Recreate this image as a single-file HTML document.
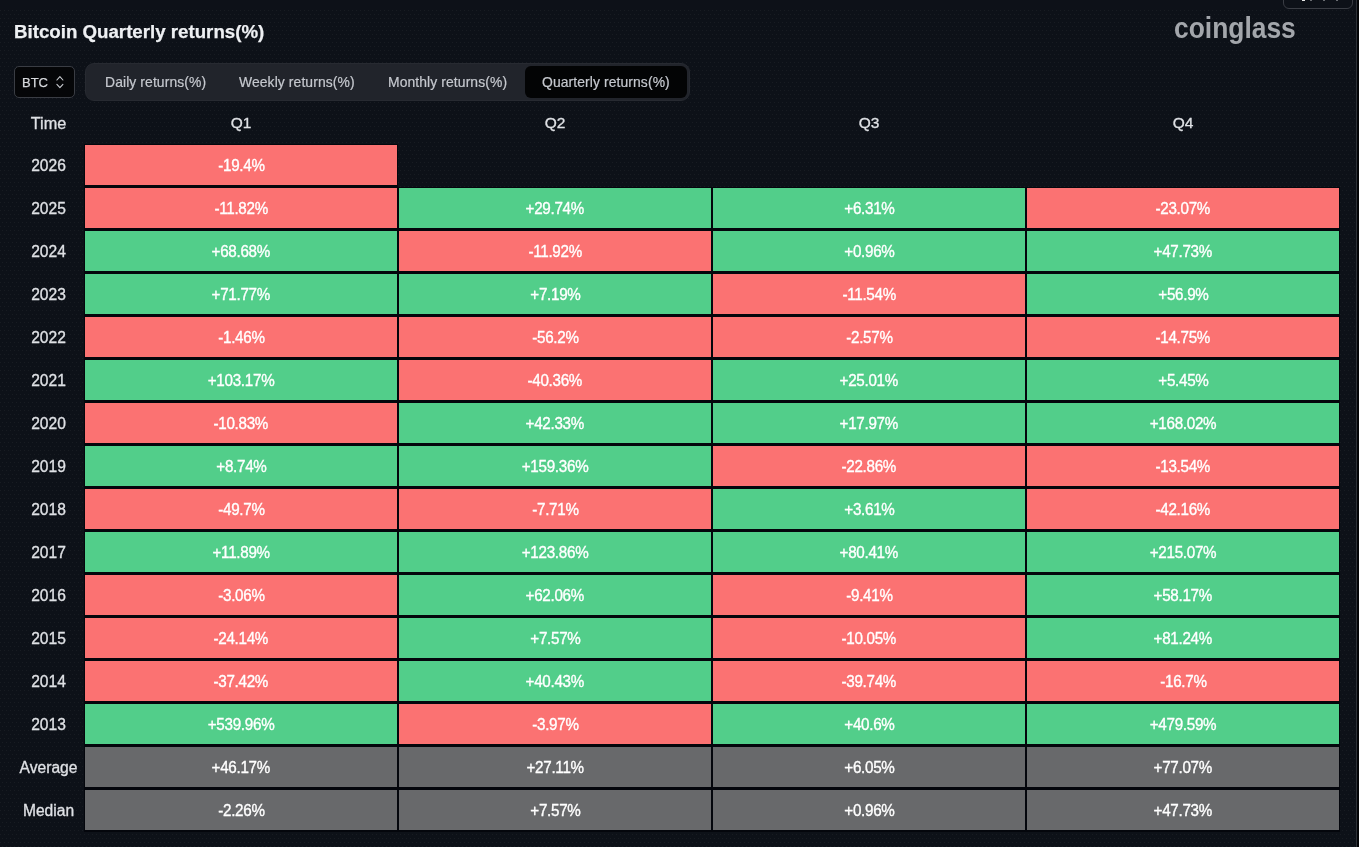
<!DOCTYPE html>
<html><head><meta charset="utf-8">
<style>
html,body{margin:0;padding:0;}
body{will-change:transform;width:1359px;height:847px;overflow:hidden;background:#0d1118;position:relative;font-family:"Liberation Sans",sans-serif;}
.abs{position:absolute;}
.title{position:absolute;left:14px;top:19.6px;-webkit-text-stroke:0.25px #eef0f3;font-size:18.7px;font-weight:bold;color:#eef0f3;white-space:nowrap;line-height:24px;}
.logo{position:absolute;left:1173.5px;top:10px;font-size:30px;transform:scaleX(0.88);font-weight:bold;color:#a3a6ab;white-space:nowrap;line-height:36px;transform-origin:0 0;}
.sel{position:absolute;left:14px;top:66px;width:59px;height:30px;border:1px solid #3a3d44;border-radius:5px;background:#050608;}
.sel span{position:absolute;left:7px;top:8px;font-size:13px;color:#d6d8dc;line-height:16px;-webkit-text-stroke:0.25px #d6d8dc;}
.tabs{position:absolute;left:85px;top:63px;width:603px;height:36px;border:1px solid #272a31;border-radius:9px;background:#21242b;}
.tab{position:absolute;top:0;height:36px;line-height:36px;font-size:13.9px;letter-spacing:0.1px;color:#c5c8ce;white-space:nowrap;-webkit-text-stroke:0.2px #c5c8ce;}
.act{position:absolute;left:439px;top:2px;width:162px;height:32px;border-radius:6px;background:#030405;}
.hdr{position:absolute;top:113px;-webkit-text-stroke:0.3px #dfe1e5;height:20px;line-height:20px;font-size:15.5px;color:#dfe1e5;text-align:center;}
.lab{position:absolute;left:10px;width:77px;height:40px;line-height:42px;font-size:15.6px;color:#dfe1e5;text-align:center;-webkit-text-stroke:0.3px #dfe1e5;}
.blk{position:absolute;background:#04060c;}
.cell{position:absolute;width:312px;height:40px;line-height:41px;text-align:center;font-size:16px;letter-spacing:-0.3px;color:#fff;-webkit-text-stroke:0.35px #fff;}
.cell span{display:inline-block;transform:scaleX(0.95);}
.vline{position:absolute;left:1356px;top:0;width:1px;height:847px;background:#2d3138;}
.vblack{position:absolute;left:1357px;top:0;width:2px;height:847px;background:#030406;}
.topbox{position:absolute;left:1283px;top:-10px;width:68px;height:17px;border:1px solid #3a3d44;border-radius:6px;}
</style></head><body>
<svg class="abs" style="left:0;top:0" width="1359" height="847"><defs><pattern id="dp" x="0" y="2" width="4" height="8" patternUnits="userSpaceOnUse"><rect x="0" y="0" width="1" height="1" fill="#181c22"/><rect x="2" y="4" width="1" height="1" fill="#181c22"/></pattern></defs><rect x="0" y="8" width="1359" height="839" fill="url(#dp)"/></svg>
<div class="title">Bitcoin Quarterly returns(%)</div>
<div class="logo">coinglass</div>
<div class="topbox"></div>
<div class="abs" style="left:1302px;top:0;width:3px;height:1px;background:#e8e8e8"></div>
<div class="abs" style="left:1310px;top:0;width:2px;height:1px;background:#6a6d72"></div>
<div class="abs" style="left:1323px;top:0;width:2px;height:1px;background:#6a6d72"></div>
<div class="abs" style="left:1336px;top:0;width:2px;height:1px;background:#6a6d72"></div>
<div class="sel"><span>BTC</span><svg style="position:absolute;left:41px;top:8px" width="8" height="15" viewBox="0 0 8 15"><path d="M0.9 5 L3.9 1.7 L6.9 5 M0.9 9.4 L3.9 12.7 L6.9 9.4" fill="none" stroke="#c9ccd1" stroke-width="1.1" stroke-linecap="round" stroke-linejoin="round"/></svg></div>
<div class="tabs">
  <div class="act"></div>
  <div class="tab" style="left:19px">Daily returns(%)</div>
  <div class="tab" style="left:153px">Weekly returns(%)</div>
  <div class="tab" style="left:302px">Monthly returns(%)</div>
  <div class="tab" style="left:456px">Quarterly returns(%)</div>
</div>
<div class="hdr" style="left:0;width:97px;font-size:16.3px">Time</div>
<div class="hdr" style="left:85px;width:312px">Q1</div>
<div class="hdr" style="left:399px;width:312px">Q2</div>
<div class="hdr" style="left:713px;width:312px">Q3</div>
<div class="hdr" style="left:1027px;width:312px">Q4</div>
<div class="lab" style="top:145px">2026</div>
<div class="blk" style="left:84px;top:144px;width:314px;height:43px"></div>
<div class="cell" style="left:85px;top:145px;background:#fb7272"><span>-19.4%</span></div>
<div class="lab" style="top:188px">2025</div>
<div class="blk" style="left:84px;top:187px;width:314px;height:43px"></div>
<div class="cell" style="left:85px;top:188px;background:#fb7272"><span>-11.82%</span></div>
<div class="blk" style="left:398px;top:187px;width:314px;height:43px"></div>
<div class="cell" style="left:399px;top:188px;background:#52ce8a"><span>+29.74%</span></div>
<div class="blk" style="left:712px;top:187px;width:314px;height:43px"></div>
<div class="cell" style="left:713px;top:188px;background:#52ce8a"><span>+6.31%</span></div>
<div class="blk" style="left:1026px;top:187px;width:314px;height:43px"></div>
<div class="cell" style="left:1027px;top:188px;background:#fb7272"><span>-23.07%</span></div>
<div class="lab" style="top:231px">2024</div>
<div class="blk" style="left:84px;top:230px;width:314px;height:43px"></div>
<div class="cell" style="left:85px;top:231px;background:#52ce8a"><span>+68.68%</span></div>
<div class="blk" style="left:398px;top:230px;width:314px;height:43px"></div>
<div class="cell" style="left:399px;top:231px;background:#fb7272"><span>-11.92%</span></div>
<div class="blk" style="left:712px;top:230px;width:314px;height:43px"></div>
<div class="cell" style="left:713px;top:231px;background:#52ce8a"><span>+0.96%</span></div>
<div class="blk" style="left:1026px;top:230px;width:314px;height:43px"></div>
<div class="cell" style="left:1027px;top:231px;background:#52ce8a"><span>+47.73%</span></div>
<div class="lab" style="top:274px">2023</div>
<div class="blk" style="left:84px;top:273px;width:314px;height:43px"></div>
<div class="cell" style="left:85px;top:274px;background:#52ce8a"><span>+71.77%</span></div>
<div class="blk" style="left:398px;top:273px;width:314px;height:43px"></div>
<div class="cell" style="left:399px;top:274px;background:#52ce8a"><span>+7.19%</span></div>
<div class="blk" style="left:712px;top:273px;width:314px;height:43px"></div>
<div class="cell" style="left:713px;top:274px;background:#fb7272"><span>-11.54%</span></div>
<div class="blk" style="left:1026px;top:273px;width:314px;height:43px"></div>
<div class="cell" style="left:1027px;top:274px;background:#52ce8a"><span>+56.9%</span></div>
<div class="lab" style="top:317px">2022</div>
<div class="blk" style="left:84px;top:316px;width:314px;height:43px"></div>
<div class="cell" style="left:85px;top:317px;background:#fb7272"><span>-1.46%</span></div>
<div class="blk" style="left:398px;top:316px;width:314px;height:43px"></div>
<div class="cell" style="left:399px;top:317px;background:#fb7272"><span>-56.2%</span></div>
<div class="blk" style="left:712px;top:316px;width:314px;height:43px"></div>
<div class="cell" style="left:713px;top:317px;background:#fb7272"><span>-2.57%</span></div>
<div class="blk" style="left:1026px;top:316px;width:314px;height:43px"></div>
<div class="cell" style="left:1027px;top:317px;background:#fb7272"><span>-14.75%</span></div>
<div class="lab" style="top:360px">2021</div>
<div class="blk" style="left:84px;top:359px;width:314px;height:43px"></div>
<div class="cell" style="left:85px;top:360px;background:#52ce8a"><span>+103.17%</span></div>
<div class="blk" style="left:398px;top:359px;width:314px;height:43px"></div>
<div class="cell" style="left:399px;top:360px;background:#fb7272"><span>-40.36%</span></div>
<div class="blk" style="left:712px;top:359px;width:314px;height:43px"></div>
<div class="cell" style="left:713px;top:360px;background:#52ce8a"><span>+25.01%</span></div>
<div class="blk" style="left:1026px;top:359px;width:314px;height:43px"></div>
<div class="cell" style="left:1027px;top:360px;background:#52ce8a"><span>+5.45%</span></div>
<div class="lab" style="top:403px">2020</div>
<div class="blk" style="left:84px;top:402px;width:314px;height:43px"></div>
<div class="cell" style="left:85px;top:403px;background:#fb7272"><span>-10.83%</span></div>
<div class="blk" style="left:398px;top:402px;width:314px;height:43px"></div>
<div class="cell" style="left:399px;top:403px;background:#52ce8a"><span>+42.33%</span></div>
<div class="blk" style="left:712px;top:402px;width:314px;height:43px"></div>
<div class="cell" style="left:713px;top:403px;background:#52ce8a"><span>+17.97%</span></div>
<div class="blk" style="left:1026px;top:402px;width:314px;height:43px"></div>
<div class="cell" style="left:1027px;top:403px;background:#52ce8a"><span>+168.02%</span></div>
<div class="lab" style="top:446px">2019</div>
<div class="blk" style="left:84px;top:445px;width:314px;height:43px"></div>
<div class="cell" style="left:85px;top:446px;background:#52ce8a"><span>+8.74%</span></div>
<div class="blk" style="left:398px;top:445px;width:314px;height:43px"></div>
<div class="cell" style="left:399px;top:446px;background:#52ce8a"><span>+159.36%</span></div>
<div class="blk" style="left:712px;top:445px;width:314px;height:43px"></div>
<div class="cell" style="left:713px;top:446px;background:#fb7272"><span>-22.86%</span></div>
<div class="blk" style="left:1026px;top:445px;width:314px;height:43px"></div>
<div class="cell" style="left:1027px;top:446px;background:#fb7272"><span>-13.54%</span></div>
<div class="lab" style="top:489px">2018</div>
<div class="blk" style="left:84px;top:488px;width:314px;height:43px"></div>
<div class="cell" style="left:85px;top:489px;background:#fb7272"><span>-49.7%</span></div>
<div class="blk" style="left:398px;top:488px;width:314px;height:43px"></div>
<div class="cell" style="left:399px;top:489px;background:#fb7272"><span>-7.71%</span></div>
<div class="blk" style="left:712px;top:488px;width:314px;height:43px"></div>
<div class="cell" style="left:713px;top:489px;background:#52ce8a"><span>+3.61%</span></div>
<div class="blk" style="left:1026px;top:488px;width:314px;height:43px"></div>
<div class="cell" style="left:1027px;top:489px;background:#fb7272"><span>-42.16%</span></div>
<div class="lab" style="top:532px">2017</div>
<div class="blk" style="left:84px;top:531px;width:314px;height:43px"></div>
<div class="cell" style="left:85px;top:532px;background:#52ce8a"><span>+11.89%</span></div>
<div class="blk" style="left:398px;top:531px;width:314px;height:43px"></div>
<div class="cell" style="left:399px;top:532px;background:#52ce8a"><span>+123.86%</span></div>
<div class="blk" style="left:712px;top:531px;width:314px;height:43px"></div>
<div class="cell" style="left:713px;top:532px;background:#52ce8a"><span>+80.41%</span></div>
<div class="blk" style="left:1026px;top:531px;width:314px;height:43px"></div>
<div class="cell" style="left:1027px;top:532px;background:#52ce8a"><span>+215.07%</span></div>
<div class="lab" style="top:575px">2016</div>
<div class="blk" style="left:84px;top:574px;width:314px;height:43px"></div>
<div class="cell" style="left:85px;top:575px;background:#fb7272"><span>-3.06%</span></div>
<div class="blk" style="left:398px;top:574px;width:314px;height:43px"></div>
<div class="cell" style="left:399px;top:575px;background:#52ce8a"><span>+62.06%</span></div>
<div class="blk" style="left:712px;top:574px;width:314px;height:43px"></div>
<div class="cell" style="left:713px;top:575px;background:#fb7272"><span>-9.41%</span></div>
<div class="blk" style="left:1026px;top:574px;width:314px;height:43px"></div>
<div class="cell" style="left:1027px;top:575px;background:#52ce8a"><span>+58.17%</span></div>
<div class="lab" style="top:618px">2015</div>
<div class="blk" style="left:84px;top:617px;width:314px;height:43px"></div>
<div class="cell" style="left:85px;top:618px;background:#fb7272"><span>-24.14%</span></div>
<div class="blk" style="left:398px;top:617px;width:314px;height:43px"></div>
<div class="cell" style="left:399px;top:618px;background:#52ce8a"><span>+7.57%</span></div>
<div class="blk" style="left:712px;top:617px;width:314px;height:43px"></div>
<div class="cell" style="left:713px;top:618px;background:#fb7272"><span>-10.05%</span></div>
<div class="blk" style="left:1026px;top:617px;width:314px;height:43px"></div>
<div class="cell" style="left:1027px;top:618px;background:#52ce8a"><span>+81.24%</span></div>
<div class="lab" style="top:661px">2014</div>
<div class="blk" style="left:84px;top:660px;width:314px;height:43px"></div>
<div class="cell" style="left:85px;top:661px;background:#fb7272"><span>-37.42%</span></div>
<div class="blk" style="left:398px;top:660px;width:314px;height:43px"></div>
<div class="cell" style="left:399px;top:661px;background:#52ce8a"><span>+40.43%</span></div>
<div class="blk" style="left:712px;top:660px;width:314px;height:43px"></div>
<div class="cell" style="left:713px;top:661px;background:#fb7272"><span>-39.74%</span></div>
<div class="blk" style="left:1026px;top:660px;width:314px;height:43px"></div>
<div class="cell" style="left:1027px;top:661px;background:#fb7272"><span>-16.7%</span></div>
<div class="lab" style="top:704px">2013</div>
<div class="blk" style="left:84px;top:703px;width:314px;height:43px"></div>
<div class="cell" style="left:85px;top:704px;background:#52ce8a"><span>+539.96%</span></div>
<div class="blk" style="left:398px;top:703px;width:314px;height:43px"></div>
<div class="cell" style="left:399px;top:704px;background:#fb7272"><span>-3.97%</span></div>
<div class="blk" style="left:712px;top:703px;width:314px;height:43px"></div>
<div class="cell" style="left:713px;top:704px;background:#52ce8a"><span>+40.6%</span></div>
<div class="blk" style="left:1026px;top:703px;width:314px;height:43px"></div>
<div class="cell" style="left:1027px;top:704px;background:#52ce8a"><span>+479.59%</span></div>
<div class="lab" style="top:747px">Average</div>
<div class="blk" style="left:84px;top:746px;width:314px;height:43px"></div>
<div class="cell" style="left:85px;top:747px;background:#68696b"><span>+46.17%</span></div>
<div class="blk" style="left:398px;top:746px;width:314px;height:43px"></div>
<div class="cell" style="left:399px;top:747px;background:#68696b"><span>+27.11%</span></div>
<div class="blk" style="left:712px;top:746px;width:314px;height:43px"></div>
<div class="cell" style="left:713px;top:747px;background:#68696b"><span>+6.05%</span></div>
<div class="blk" style="left:1026px;top:746px;width:314px;height:43px"></div>
<div class="cell" style="left:1027px;top:747px;background:#68696b"><span>+77.07%</span></div>
<div class="lab" style="top:790px">Median</div>
<div class="blk" style="left:84px;top:789px;width:314px;height:43px"></div>
<div class="cell" style="left:85px;top:790px;background:#68696b"><span>-2.26%</span></div>
<div class="blk" style="left:398px;top:789px;width:314px;height:43px"></div>
<div class="cell" style="left:399px;top:790px;background:#68696b"><span>+7.57%</span></div>
<div class="blk" style="left:712px;top:789px;width:314px;height:43px"></div>
<div class="cell" style="left:713px;top:790px;background:#68696b"><span>+0.96%</span></div>
<div class="blk" style="left:1026px;top:789px;width:314px;height:43px"></div>
<div class="cell" style="left:1027px;top:790px;background:#68696b"><span>+47.73%</span></div>
<div class="vline"></div>
<div class="vblack"></div>
</body></html>
